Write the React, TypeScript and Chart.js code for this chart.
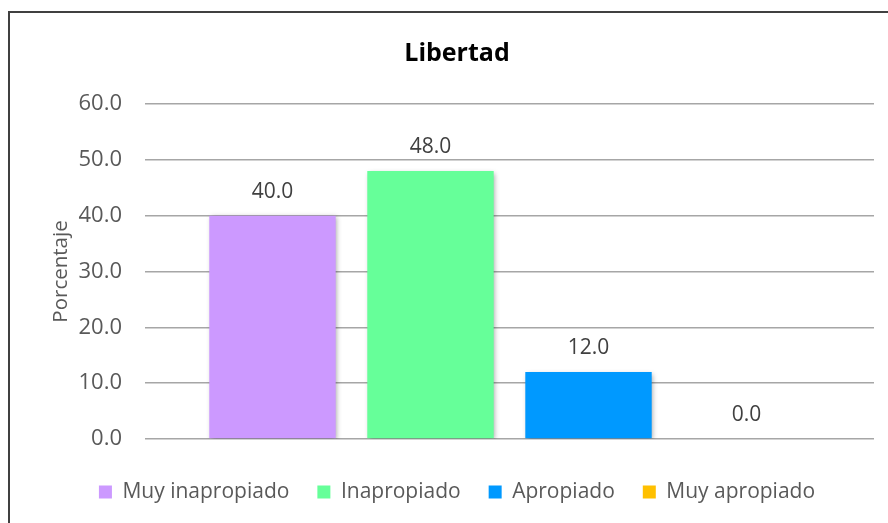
import React, { useEffect, useRef } from 'react';
import { Chart, registerables } from 'chart.js';

Chart.register(...registerables);

const categories = ['Libertad'];
const seriesNames = ['Muy inapropiado', 'Inapropiado', 'Apropiado', 'Muy apropiado'];
const seriesValues = [40.0, 48.0, 12.0, 0.0];
const seriesColors = ['#CC99FF', '#66FF99', '#0099FF', '#FFC000'];
const yMin = 0;
const yMax = 60;
const yStep = 10;
const chartTitle = 'Libertad';
const yAxisTitle = 'Porcentaje';

const FONT = '"Open Sans", "DejaVu Sans", sans-serif';

const barDecor = {
  id: 'barDecor',
  beforeDatasetsDraw(chart: any) {
    const ctx = chart.ctx;
    ctx.save();
    ctx.shadowColor = 'rgba(0,0,0,0.35)';
    ctx.shadowBlur = 5;
    ctx.shadowOffsetX = 1.5;
    ctx.shadowOffsetY = 1.5;
  },
  afterDatasetsDraw(chart: any) {
    const ctx = chart.ctx;
    ctx.restore();
    ctx.save();
    ctx.font = `21px ${FONT}`;
    ctx.fillStyle = '#404040';
    ctx.textAlign = 'center';
    ctx.textBaseline = 'middle';
    chart.data.datasets.forEach((ds: any, i: number) => {
      const meta = chart.getDatasetMeta(i);
      meta.data.forEach((bar: any, j: number) => {
        const v = Number(ds.data[j]);
        ctx.fillText(v.toFixed(1), bar.x, bar.y - 24);
      });
    });
    ctx.restore();
  },
};

export default function App() {
  const ref = useRef<HTMLCanvasElement | null>(null);

  useEffect(() => {
    if (!ref.current) return;
    const chart = new Chart(ref.current, {
      type: 'bar',
      data: {
        labels: categories,
        datasets: seriesNames.map((name, i) => ({
          label: name,
          data: [seriesValues[i]],
          backgroundColor: seriesColors[i],
          borderWidth: 0,
          categoryPercentage: 0.867,
          barPercentage: 0.8,
        })),
      },
      options: {
        animation: false,
        responsive: false,
        layout: { padding: { left: 30, right: 14, top: 10, bottom: 30.5 } },
        plugins: {
          title: {
            display: true,
            text: chartTitle,
            color: '#000000',
            font: { family: FONT, size: 25, weight: 'bold', lineHeight: 1.2 },
            padding: { top: 15.5, bottom: 35.5 },
          },
          legend: {
            position: 'bottom',
            labels: {
              boxWidth: 13,
              boxHeight: 13,
              padding: 28,
              color: '#595959',
              font: { family: FONT, size: 21 },
            },
          },
          tooltip: { enabled: false },
        },
        scales: {
          x: {
            display: true,
            grid: { display: false },
            border: { display: false },
            ticks: { display: false },
            afterFit: (s: any) => {
              s.height = 14.5;
            },
          },
          y: {
            min: yMin,
            max: yMax,
            ticks: {
              stepSize: yStep,
              padding: 23,
              color: '#595959',
              font: { family: FONT, size: 22 },
              callback: (v: any) => Number(v).toFixed(1),
            },
            grid: { color: '#A6A6A6', lineWidth: 1.5, drawTicks: false },
            border: { display: false },
            title: {
              display: true,
              text: yAxisTitle,
              color: '#595959',
              font: { family: FONT, size: 20.5, lineHeight: 1.2 },
              padding: { top: 8.7, bottom: 0 },
            },
            afterFit: (s: any) => {
              s.width = 105;
            },
          },
        },
      },
      plugins: [barDecor],
    } as any);
    return () => chart.destroy();
  }, []);

  return (
    <div
      style={{
        position: 'fixed',
        left: 0,
        top: 0,
        width: 888,
        height: 523,
        overflow: 'hidden',
        background: '#ffffff',
      }}
    >
      <div
        style={{
          position: 'absolute',
          left: 8,
          top: 11,
          width: 900,
          height: 540,
          border: '2px solid #404040',
          background: '#ffffff',
        }}
      >
        <canvas ref={ref} width={878} height={530} style={{ display: 'block' }} />
      </div>
    </div>
  );
}
